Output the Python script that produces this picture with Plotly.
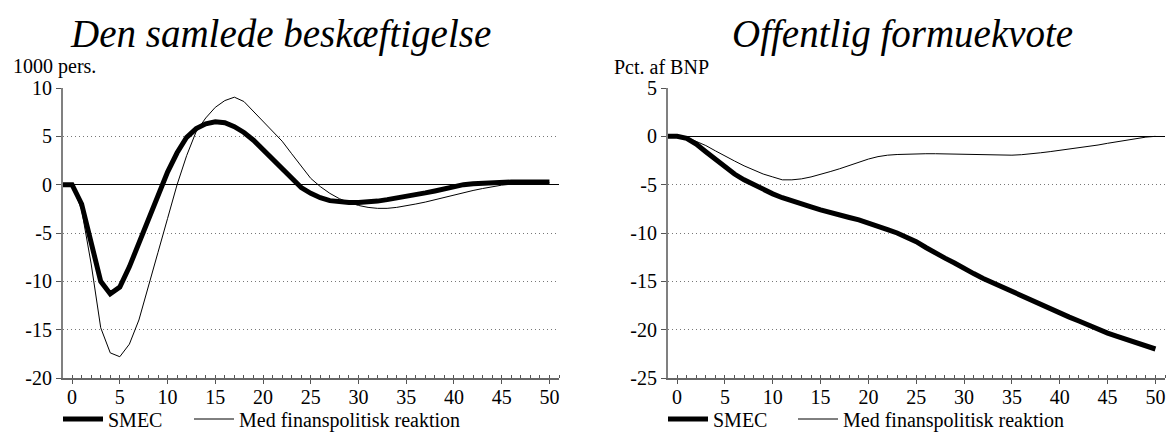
import plotly.graph_objects as go

# ---------------- data ----------------
years = list(range(-1, 51))

emp_smec = [0, 0, -2.0, -5.8, -10.0, -11.3, -10.6, -8.5, -6.1, -3.7, -1.3, 1.3,
            3.3, 4.9, 5.8, 6.3, 6.5, 6.4, 6.0, 5.4, 4.6, 3.6, 2.6, 1.6, 0.6, -0.3,
            -0.9, -1.35, -1.65, -1.8, -1.85, -1.85, -1.8, -1.7, -1.55, -1.4, -1.2,
            -1.0, -0.85, -0.65, -0.45, -0.15, 0.0, 0.1, 0.17, 0.22, 0.25, 0.27, 0.28,
            0.28, 0.28, 0.28]

emp_fin = [0, 0, -2.6, -8.2, -14.8, -17.4, -17.8, -16.5, -14.0, -10.6, -7.0, -3.5,
           0.0, 3.0, 5.5, 6.9, 8.0, 8.7, 9.05, 8.6, 7.6, 6.6, 5.5, 4.5, 3.2, 1.9,
           0.65, -0.2, -0.9, -1.45, -1.85, -2.15, -2.35, -2.45, -2.45, -2.35, -2.2,
           -2.0, -1.8, -1.55, -1.3, -1.05, -0.85, -0.6, -0.4, -0.2, -0.05, 0.05,
           0.12, 0.17, 0.2, 0.2]

wealth_smec = [0, 0, -0.2, -0.8, -1.6, -2.4, -3.2, -3.9, -4.5, -5.0, -5.5, -5.95,
               -6.35, -6.7, -7.0, -7.3, -7.6, -7.9, -8.15, -8.4, -8.65, -8.95, -9.3,
               -9.65, -10.0, -10.4, -10.9, -11.5, -12.1, -12.6, -13.1, -13.7, -14.2,
               -14.7, -15.15, -15.6, -16.0, -16.5, -17.0, -17.4, -17.85, -18.3, -18.7,
               -19.1, -19.55, -20.0, -20.35, -20.7, -21.0, -21.35, -21.7, -22.0]

wealth_fin = [0, 0, -0.1, -0.5, -0.95, -1.5, -2.05, -2.55, -3.05, -3.5, -3.9, -4.2,
              -4.5, -4.5, -4.4, -4.2, -3.95, -3.65, -3.35, -3.0, -2.65, -2.35, -2.1,
              -1.95, -1.88, -1.83, -1.8, -1.8, -1.8, -1.82, -1.85, -1.88, -1.92, -1.95,
              -1.97, -1.97, -1.95, -1.9, -1.82, -1.7, -1.58, -1.45, -1.32, -1.2, -1.05,
              -0.9, -0.72, -0.55, -0.38, -0.22, -0.08, 0.0]

x_ticks = [0, 5, 10, 15, 20, 25, 30, 35, 40, 45, 50]
y1_ticks = [-20, -15, -10, -5, 0, 5, 10]
y2_ticks = [-25, -20, -15, -10, -5, 0, 5]

titles = ["Den samlede beskæftigelse", "Offentlig formuekvote"]
units = ["1000 pers.", "Pct. af BNP"]
names = ["SMEC", "Med finanspolitisk reaktion"]

# ---------------- figure ----------------
W, H = 1166, 432
FONT = "Liberation Serif, Times New Roman, serif"
FS = 20

fig = go.Figure()

fig.add_trace(go.Scatter(x=years, y=emp_smec, mode="lines", name=names[0],
                         line=dict(color="black", width=5), xaxis="x", yaxis="y",
                         legend="legend", showlegend=True))
fig.add_trace(go.Scatter(x=years, y=emp_fin, mode="lines", name=names[1],
                         line=dict(color="black", width=1), xaxis="x", yaxis="y",
                         legend="legend2", showlegend=True))
fig.add_trace(go.Scatter(x=years, y=wealth_smec, mode="lines", name=names[0],
                         line=dict(color="black", width=5), xaxis="x2", yaxis="y2",
                         legend="legend3", showlegend=True))
fig.add_trace(go.Scatter(x=years, y=wealth_fin, mode="lines", name=names[1],
                         line=dict(color="black", width=1), xaxis="x2", yaxis="y2",
                         legend="legend4", showlegend=True))

ydom = [(H - 378) / H, (H - 88) / H]
xdom1 = [63 / W, 559 / W]
xdom2 = [668 / W, 1165 / W]

def xaxis(dom, anchor):
    return dict(domain=dom, anchor=anchor, range=[-0.95, 51],
                tickvals=x_ticks, ticktext=[str(v) for v in x_ticks],
                ticks="outside", ticklen=4, tickcolor="#555", tickwidth=1,
                ticklabelstandoff=-4,
                minor=dict(dtick=1, tick0=0, ticks="inside", ticklen=3,
                           tickcolor="#555", showgrid=False),
                showline=True, linecolor="#666", linewidth=1.5,
                showgrid=False, zeroline=False, fixedrange=True,
                tickfont=dict(family=FONT, size=FS, color="black"))

def yaxis(dom, anchor, ticks, rng):
    return dict(domain=dom, anchor=anchor, range=rng,
                tickvals=ticks, ticktext=[str(v) for v in ticks],
                ticks="outside", ticklen=5, tickcolor="#555", tickwidth=1,
                showline=True, linecolor="#808080", linewidth=2,
                showgrid=True, gridcolor="#777", griddash="1px,3px", gridwidth=1,
                zeroline=True, zerolinecolor="black", zerolinewidth=1,
                fixedrange=True,
                tickfont=dict(family=FONT, size=FS, color="black"))

legend_common = dict(orientation="h", yanchor="middle", y=(H - 419) / H,
                     xanchor="left",
                     font=dict(family=FONT, size=FS, color="black"),
                     bgcolor="rgba(0,0,0,0)", itemwidth=40)

fig.update_layout(
    width=W, height=H,
    showlegend=True,
    margin=dict(l=0, r=0, t=0, b=0, autoexpand=False),
    paper_bgcolor="white", plot_bgcolor="white",
    font=dict(family=FONT, size=FS, color="black"),
    xaxis=xaxis(xdom1, "y"),
    yaxis=yaxis(ydom, "x", y1_ticks, [-20, 10]),
    xaxis2=xaxis(xdom2, "y2"),
    yaxis2=yaxis(ydom, "x2", y2_ticks, [-25, 5]),
    legend=dict(legend_common, x=58 / W),
    legend2=dict(legend_common, x=189 / W),
    legend3=dict(legend_common, x=663 / W),
    legend4=dict(legend_common, x=793 / W),
    annotations=[
        dict(text=titles[0], x=280 / W, y=(H - 34) / H, xref="paper", yref="paper",
             showarrow=False, xanchor="center", yanchor="middle",
             font=dict(family=FONT, size=39, style="italic", color="black")),
        dict(text=titles[1], x=902 / W, y=(H - 34) / H, xref="paper", yref="paper",
             showarrow=False, xanchor="center", yanchor="middle",
             font=dict(family=FONT, size=39, style="italic", color="black")),
        dict(text=units[0], x=11 / W, y=(H - 67) / H, xref="paper", yref="paper",
             showarrow=False, xanchor="left", yanchor="middle",
             font=dict(family=FONT, size=FS, color="black")),
        dict(text=units[1], x=612 / W, y=(H - 67) / H, xref="paper", yref="paper",
             showarrow=False, xanchor="left", yanchor="middle",
             font=dict(family=FONT, size=FS, color="black")),
    ],
)

fig.write_html("out.html",
               config={"displayModeBar": False},
               post_script="document.body.style.margin='0';"
                           "document.body.style.overflow='hidden';")
